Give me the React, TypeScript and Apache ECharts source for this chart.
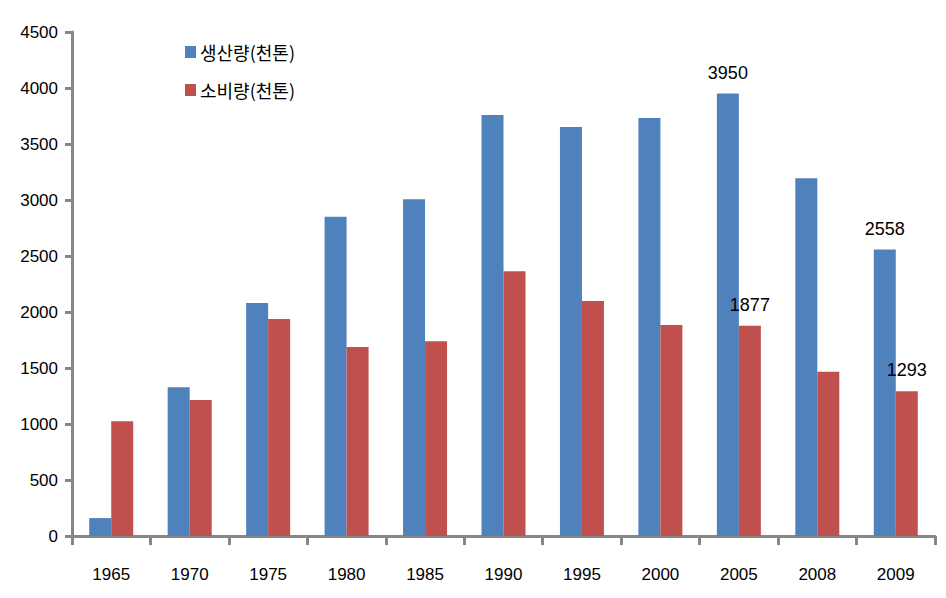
import React, { useEffect, useRef } from "react";
import * as echarts from "echarts";

const years = ["1965", "1970", "1975", "1980", "1985", "1990", "1995", "2000", "2005", "2008", "2009"];
const production = [160, 1328, 2080, 2851, 3006, 3759, 3652, 3732, 3950, 3194, 2558];
const consumption = [1025, 1214, 1937, 1687, 1738, 2363, 2098, 1884, 1877, 1467, 1293];
const productionLabelYears = ["2005", "2009"];
const consumptionLabelYears = ["2005", "2009"];
const seriesNames = ["생산량(천톤)", "소비량(천톤)"];
const yTicks = { min: 0, max: 4500, interval: 500 };

const numFont = "'Liberation Sans', Arial, sans-serif";
const krFont = "'Noto Sans CJK KR', 'Noto Sans', sans-serif";

function withLabels(values: number[], labelYears: string[]) {
  return values.map((v, i) => ({
    value: v,
    label: { show: labelYears.includes(years[i]) },
  }));
}

export default function App() {
  const ref = useRef<HTMLDivElement>(null);
  useEffect(() => {
    document.body.style.margin = "0";
    if (!ref.current) return;
    const chart = echarts.init(ref.current, undefined, { renderer: "svg" });
    const labelStyle = {
      position: "top" as const,
      distance: 12,
      fontFamily: numFont,
      fontSize: 18,
      color: "#000",
    };
    chart.setOption({
      animation: false,
      backgroundColor: "#fff",
      grid: { left: 72, right: 11, top: 32, bottom: 62, containLabel: false },
      legend: {
        orient: "vertical",
        left: 180,
        top: 38,
        itemWidth: 11,
        itemHeight: 12,
        itemGap: 20,
        icon: "rect",
        textStyle: { fontFamily: krFont, fontSize: 18, color: "#000", padding: [0, 0, 0, -1] },
        data: seriesNames,
      },
      xAxis: {
        type: "category",
        data: years,
        axisLine: { lineStyle: { color: "#868686", width: 3 } },
        axisTick: { show: true, length: 9, lineStyle: { color: "#868686", width: 3 } },
        axisLabel: { fontFamily: numFont, fontSize: 17, color: "#000", margin: 30 },
      },
      yAxis: {
        type: "value",
        min: yTicks.min,
        max: yTicks.max,
        interval: yTicks.interval,
        splitLine: { show: false },
        axisLine: { show: true, lineStyle: { color: "#868686", width: 3 } },
        axisTick: { show: true, length: 7, lineStyle: { color: "#868686", width: 3 } },
        axisLabel: {
          fontFamily: numFont,
          fontSize: 17,
          color: "#000",
          margin: 14,
          formatter: (v: number) => String(v),
        },
      },
      series: [
        {
          name: seriesNames[0],
          type: "bar",
          barWidth: 22,
          barGap: "0%",
          itemStyle: { color: "#4F81BD" },
          label: { ...labelStyle, show: false },
          data: withLabels(production, productionLabelYears),
        },
        {
          name: seriesNames[1],
          type: "bar",
          barWidth: 22,
          barGap: "0%",
          itemStyle: { color: "#C0504D" },
          label: { ...labelStyle, show: false },
          data: withLabels(consumption, consumptionLabelYears),
        },
      ],
    });
    return () => chart.dispose();
  }, []);
  return <div ref={ref} style={{ width: 946, height: 598 }} />;
}
